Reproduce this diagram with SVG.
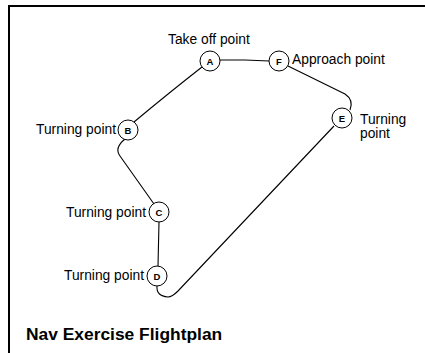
<svg xmlns="http://www.w3.org/2000/svg" width="425" height="353" viewBox="0 0 425 353">
<style>
.frame{stroke:#000;stroke-width:2;fill:none}
.wp{fill:#fff;stroke:#000;stroke-width:1}
.lt{font-family:"Liberation Sans",Arial,sans-serif;font-size:9.5px;font-weight:bold;text-anchor:middle;fill:#000}
.lbl{font-family:"Liberation Sans",Arial,sans-serif;font-size:13.8px;fill:#000}
.end{text-anchor:end}
.route{fill:none;stroke:#000;stroke-width:1.1}
.title{font-family:"Liberation Sans",Arial,sans-serif;font-size:17.4px;font-weight:bold;fill:#000}
</style>
<rect width="425" height="353" fill="#fff"/>
<path class="frame" d="M425 6 H9 V353"/>
<g id="connectors">
<path class="route" d="M220 60 H245 L269 61"/>
<path class="route" d="M202 67 Q170 92 134 122"/>
<path class="route" d="M125 139 Q114 148 120 156 L154 204"/>
<path class="route" d="M159 222 L158 266"/>
<path class="route" d="M157 286 Q156 296 168 297 Q172 297 178 291 L334 126"/>
<path class="route" d="M288 66 L345 94 Q354 100 350 110"/>
</g>
<g id="A"><circle class="wp" cx="210" cy="61" r="10"/><text class="lt" x="210" y="64.5">A</text><text class="lbl" x="168" y="44">Take off point</text></g>
<g id="F"><circle class="wp" cx="279" cy="61" r="10"/><text class="lt" x="279" y="64.5">F</text><text class="lbl" x="292" y="64">Approach point</text></g>
<g id="E"><circle class="wp" cx="342" cy="118" r="10"/><text class="lt" x="342" y="121.5">E</text><text class="lbl" x="360" y="124">Turning</text><text class="lbl" x="360" y="138">point</text></g>
<g id="B"><circle class="wp" cx="128" cy="130" r="10"/><text class="lt" x="128" y="133.5">B</text><text class="lbl end" x="116" y="134">Turning point</text></g>
<g id="C"><circle class="wp" cx="159" cy="212" r="10"/><text class="lt" x="159" y="215.5">C</text><text class="lbl end" x="146" y="217">Turning point</text></g>
<g id="D"><circle class="wp" cx="157" cy="276" r="10"/><text class="lt" x="157" y="279.5">D</text><text class="lbl end" x="144" y="280">Turning point</text></g>
<text class="title" x="26" y="340">Nav Exercise Flightplan</text>
</svg>
